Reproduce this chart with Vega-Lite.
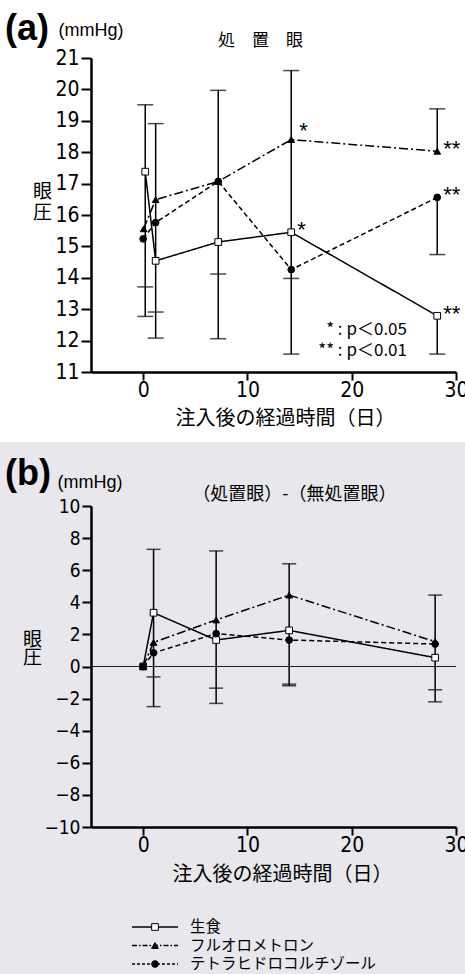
{
  "$schema": "https://vega.github.io/schema/vega-lite/v6.json",
  "background": "#e7e7ec",
  "padding": {"left": 0, "top": 0, "right": 0, "bottom": 12},
  "spacing": 134,
  "bounds": "flush",
  "resolve": {"scale": {"shape": "independent", "fill": "independent", "strokeDash": "independent"}},
  "config": {
    "font": "Liberation Sans",
    "view": {"stroke": null},
    "title": {"anchor": "start", "frame": "group", "font": "Liberation Sans", "fontSize": 36, "fontWeight": "bold", "color": "black", "offset": 0},
    "axis": {"grid": false, "domainColor": "black", "domainWidth": 2.5, "tickColor": "black", "tickWidth": 2, "labelColor": "black", "labelFont": "Liberation Sans Narrow, DejaVu Sans Condensed, sans-serif", "labelFontSize": 21, "labelFlush": false, "labelOverlap": false, "titleColor": "black", "titleFont": "Noto Sans CJK JP", "titleFontWeight": "normal"}
  },
  "datasets": {
    "pts": [
      {"panel": "a", "series": "生食", "day": 0.2, "v": 17.38},
      {"panel": "a", "series": "生食", "day": 1.2, "v": 14.54},
      {"panel": "a", "series": "生食", "day": 7.2, "v": 15.14},
      {"panel": "a", "series": "生食", "day": 14.2, "v": 15.45},
      {"panel": "a", "series": "生食", "day": 28.2, "v": 12.79},
      {"panel": "a", "series": "フルオロメトロン", "day": 0.05, "v": 15.56},
      {"panel": "a", "series": "フルオロメトロン", "day": 1.2, "v": 16.49},
      {"panel": "a", "series": "フルオロメトロン", "day": 7.2, "v": 17.07},
      {"panel": "a", "series": "フルオロメトロン", "day": 14.2, "v": 18.4},
      {"panel": "a", "series": "フルオロメトロン", "day": 28.2, "v": 18.03},
      {"panel": "a", "series": "テトラヒドロコルチゾール", "day": 0, "v": 15.24},
      {"panel": "a", "series": "テトラヒドロコルチゾール", "day": 1.2, "v": 15.76},
      {"panel": "a", "series": "テトラヒドロコルチゾール", "day": 7.2, "v": 17.07},
      {"panel": "a", "series": "テトラヒドロコルチゾール", "day": 14.2, "v": 14.26},
      {"panel": "a", "series": "テトラヒドロコルチゾール", "day": 28.2, "v": 16.56},
      {"panel": "b", "series": "生食", "day": 0, "v": 0},
      {"panel": "b", "series": "生食", "day": 1, "v": 3.35},
      {"panel": "b", "series": "生食", "day": 7, "v": 1.65},
      {"panel": "b", "series": "生食", "day": 14, "v": 2.25},
      {"panel": "b", "series": "生食", "day": 28, "v": 0.55},
      {"panel": "b", "series": "フルオロメトロン", "day": 0, "v": 0},
      {"panel": "b", "series": "フルオロメトロン", "day": 1, "v": 1.5},
      {"panel": "b", "series": "フルオロメトロン", "day": 7, "v": 2.9},
      {"panel": "b", "series": "フルオロメトロン", "day": 14, "v": 4.45},
      {"panel": "b", "series": "フルオロメトロン", "day": 28, "v": 1.55},
      {"panel": "b", "series": "テトラヒドロコルチゾール", "day": 0, "v": 0},
      {"panel": "b", "series": "テトラヒドロコルチゾール", "day": 1, "v": 0.85},
      {"panel": "b", "series": "テトラヒドロコルチゾール", "day": 7, "v": 2.05},
      {"panel": "b", "series": "テトラヒドロコルチゾール", "day": 14, "v": 1.65},
      {"panel": "b", "series": "テトラヒドロコルチゾール", "day": 28, "v": 1.4}
    ],
    "err": [
      {"panel": "a", "day": 0.2, "lo": 12.77, "hi": 19.51},
      {"panel": "a", "day": 1.2, "lo": 12.08, "hi": 18.91},
      {"panel": "a", "day": 7.2, "lo": 12.06, "hi": 19.97},
      {"panel": "a", "day": 14.2, "lo": 11.57, "hi": 20.6},
      {"panel": "a", "day": 28.2, "lo": 18.03, "hi": 19.38},
      {"panel": "a", "day": 28.2, "lo": 14.74, "hi": 16.56},
      {"panel": "a", "day": 28.2, "lo": 11.57, "hi": 12.79},
      {"panel": "b", "day": 1, "lo": -2.5, "hi": 7.3},
      {"panel": "b", "day": 7, "lo": -2.3, "hi": 7.2},
      {"panel": "b", "day": 14, "lo": -1.2, "hi": 6.4},
      {"panel": "b", "day": 28, "lo": -2.2, "hi": 4.45}
    ],
    "caps": [
      {"panel": "a", "day": 0.2, "cap": 19.51},
      {"panel": "a", "day": 0.2, "cap": 13.71},
      {"panel": "a", "day": 0.2, "cap": 12.77},
      {"panel": "a", "day": 1.2, "cap": 18.91},
      {"panel": "a", "day": 1.2, "cap": 12.91},
      {"panel": "a", "day": 1.2, "cap": 12.08},
      {"panel": "a", "day": 7.2, "cap": 19.97},
      {"panel": "a", "day": 7.2, "cap": 14.12},
      {"panel": "a", "day": 7.2, "cap": 12.06},
      {"panel": "a", "day": 14.2, "cap": 20.6},
      {"panel": "a", "day": 14.2, "cap": 13.98},
      {"panel": "a", "day": 14.2, "cap": 11.57},
      {"panel": "a", "day": 28.2, "cap": 19.38},
      {"panel": "a", "day": 28.2, "cap": 14.74},
      {"panel": "a", "day": 28.2, "cap": 11.57},
      {"panel": "b", "day": 1, "cap": 7.3},
      {"panel": "b", "day": 1, "cap": -0.65},
      {"panel": "b", "day": 1, "cap": -2.5},
      {"panel": "b", "day": 7, "cap": 7.2},
      {"panel": "b", "day": 7, "cap": -1.35},
      {"panel": "b", "day": 7, "cap": -2.3},
      {"panel": "b", "day": 14, "cap": 6.4},
      {"panel": "b", "day": 14, "cap": -1.1},
      {"panel": "b", "day": 14, "cap": -1.2},
      {"panel": "b", "day": 28, "cap": 4.45},
      {"panel": "b", "day": 28, "cap": -1.45},
      {"panel": "b", "day": 28, "cap": -2.2}
    ],
    "stars": [
      {"series": "フルオロメトロン", "day": 14.2, "v": 18.4, "label": "*"},
      {"series": "生食", "day": 14.2, "v": 15.45, "label": "*"},
      {"series": "フルオロメトロン", "day": 28.2, "v": 18.03, "label": "**"},
      {"series": "テトラヒドロコルチゾール", "day": 28.2, "v": 16.56, "label": "**"},
      {"series": "生食", "day": 28.2, "v": 12.79, "label": "**"}
    ],
    "legend": [
      {"series": "生食"},
      {"series": "フルオロメトロン"},
      {"series": "テトラヒドロコルチゾール"}
    ]
  },
  "vconcat": [
    {
      "width": 365,
      "height": 314,
      "title": {"text": "(a)", "dx": -86, "dy": 52},
      "resolve": {"axis": {"x": "independent", "y": "independent"}},
      "layer": [
        {
          "data": {"values": [{}]},
          "mark": {"type": "rect", "color": "white"},
          "encoding": {
            "x": {"datum": -13.726, "type": "quantitative", "scale": {"domain": [-5, 30], "nice": false, "zero": false}, "axis": null},
            "x2": {"datum": 40},
            "y": {"datum": 22.847, "type": "quantitative", "scale": {"domain": [11, 21], "nice": false, "zero": false}, "axis": null},
            "y2": {"datum": 8.771}
          }
        },
        {
          "data": {"name": "err"},
          "transform": [{"filter": "datum.panel === 'a'"}],
          "mark": {"type": "rule", "color": "black", "strokeWidth": 1.5},
          "encoding": {
            "x": {"field": "day", "type": "quantitative", "scale": {"domain": [-5, 30], "nice": false, "zero": false},
              "axis": {"zindex": 2, "orient": "top", "domain": false, "ticks": false, "labels": false, "title": "処　置　眼", "titleX": 169, "titleY": -18, "titleAlign": "center", "titleBaseline": "middle", "titleFontSize": 17}},
            "y": {"field": "lo", "type": "quantitative", "scale": {"domain": [11, 21], "nice": false, "zero": false},
              "axis": {"zindex": 2, "orient": "right", "domain": false, "ticks": false, "labels": false, "title": "(mmHg)", "titleAngle": 0, "titleX": -398, "titleY": -28, "titleAlign": "left", "titleBaseline": "middle", "titleFont": "Liberation Sans", "titleFontSize": 18}},
            "y2": {"field": "hi"}
          }
        },
        {
          "data": {"name": "caps"},
          "transform": [{"filter": "datum.panel === 'a'"}],
          "mark": {"type": "tick", "orient": "horizontal", "size": 16, "thickness": 1.5, "color": "black"},
          "encoding": {
            "x": {"field": "day", "type": "quantitative", "scale": {"domain": [-5, 30], "nice": false, "zero": false}, "axis": null},
            "y": {"field": "cap", "type": "quantitative", "scale": {"domain": [11, 21], "nice": false, "zero": false}, "axis": null}
          }
        },
        {
          "data": {"name": "pts"},
          "transform": [{"filter": "datum.panel === 'a'"}],
          "mark": {"type": "line", "color": "black", "strokeWidth": 1.5},
          "encoding": {
            "x": {"field": "day", "type": "quantitative", "scale": {"domain": [-5, 30], "nice": false, "zero": false},
              "axis": {"zindex": 2, "values": [0, 10, 20, 30], "tickSize": 8, "labelPadding": -1, "title": "注入後の経過時間（日）", "titleX": 194, "titleY": 46, "titleAlign": "center", "titleBaseline": "middle", "titleFontSize": 20}},
            "y": {"field": "v", "type": "quantitative", "scale": {"domain": [11, 21], "nice": false, "zero": false},
              "axis": {"zindex": 2, "values": [11, 12, 13, 14, 15, 16, 17, 18, 19, 20, 21], "tickSize": 10, "labelPadding": 2, "title": ["眼", "圧"], "titleAngle": 0, "titleX": -49, "titleY": 133, "titleAlign": "center", "titleBaseline": "middle", "titleFontSize": 19, "titleLineHeight": 21}},
            "strokeDash": {"field": "series", "type": "nominal", "scale": {"domain": ["生食", "フルオロメトロン", "テトラヒドロコルチゾール"], "range": [[1, 0], [9, 3, 2, 3], [5, 3]]}, "legend": null}
          }
        },
        {
          "data": {"name": "pts"},
          "transform": [{"filter": "datum.panel === 'a'"}],
          "mark": {"type": "point", "filled": true, "size": 45, "stroke": "black", "strokeWidth": 1, "opacity": 1},
          "encoding": {
            "x": {"field": "day", "type": "quantitative", "scale": {"domain": [-5, 30], "nice": false, "zero": false}, "axis": null},
            "y": {"field": "v", "type": "quantitative", "scale": {"domain": [11, 21], "nice": false, "zero": false}, "axis": null},
            "shape": {"field": "series", "type": "nominal", "scale": {"domain": ["生食", "フルオロメトロン", "テトラヒドロコルチゾール"], "range": ["square", "triangle-up", "circle"]}, "legend": null},
            "fill": {"field": "series", "type": "nominal", "scale": {"domain": ["生食", "フルオロメトロン", "テトラヒドロコルチゾール"], "range": ["white", "black", "black"]}, "legend": null}
          }
        },
        {
          "data": {"name": "stars"},
          "transform": [{"filter": "!(datum.day < 20 && datum.series === 'フルオロメトロン')"}],
          "mark": {"type": "text", "align": "left", "baseline": "alphabetic", "dx": 6, "dy": 5, "font": "Liberation Sans", "fontSize": 22, "color": "black"},
          "encoding": {
            "x": {"field": "day", "type": "quantitative", "scale": {"domain": [-5, 30], "nice": false, "zero": false}, "axis": null},
            "y": {"field": "v", "type": "quantitative", "scale": {"domain": [11, 21], "nice": false, "zero": false}, "axis": null},
            "text": {"field": "label"}
          }
        },
        {
          "data": {"name": "stars"},
          "transform": [{"filter": "datum.day < 20 && datum.series === 'フルオロメトロン'"}],
          "mark": {"type": "text", "align": "left", "baseline": "alphabetic", "dx": 8, "dy": -2, "font": "Liberation Sans", "fontSize": 22, "color": "black"},
          "encoding": {
            "x": {"field": "day", "type": "quantitative", "scale": {"domain": [-5, 30], "nice": false, "zero": false}, "axis": null},
            "y": {"field": "v", "type": "quantitative", "scale": {"domain": [11, 21], "nice": false, "zero": false}, "axis": null},
            "text": {"field": "label"}
          }
        },
        {
          "data": {"values": [{}]},
          "mark": {"type": "text", "align": "right", "baseline": "middle", "font": "Noto Sans CJK JP", "fontSize": 17, "lineHeight": 21, "color": "black"},
          "encoding": {
            "x": {"datum": 25.3, "type": "quantitative", "scale": {"domain": [-5, 30], "nice": false, "zero": false}, "axis": null},
            "y": {"datum": 12.34, "type": "quantitative", "scale": {"domain": [11, 21], "nice": false, "zero": false}, "axis": null},
            "text": {"value": ["* : p＜0.05", "** : p＜0.01"]}
          }
        }
      ]
    },
    {
      "width": 365,
      "height": 321,
      "title": {"text": "(b)", "dx": -86, "dy": 24},
      "resolve": {"axis": {"x": "independent", "y": "independent"}, "scale": {"y": "independent", "strokeDash": "independent"}},
      "layer": [
        {
          "data": {"values": [{}]},
          "mark": {"type": "rule", "color": "#222222", "strokeWidth": 1},
          "encoding": {
            "y": {"datum": 0, "type": "quantitative", "scale": {"domain": [-10, 10], "nice": false, "zero": false}, "axis": null}
          }
        },
        {
          "data": {"name": "err"},
          "transform": [{"filter": "datum.panel === 'b'"}],
          "mark": {"type": "rule", "color": "black", "strokeWidth": 1.5},
          "encoding": {
            "x": {"field": "day", "type": "quantitative", "scale": {"domain": [-5, 30], "nice": false, "zero": false},
              "axis": {"zindex": 2, "orient": "top", "domain": false, "ticks": false, "labels": false, "title": "（処置眼）-（無処置眼）", "titleX": 203, "titleY": -12, "titleAlign": "center", "titleBaseline": "middle", "titleFontSize": 18}},
            "y": {"field": "lo", "type": "quantitative", "scale": {"domain": [-10, 10], "nice": false, "zero": false},
              "axis": {"zindex": 2, "orient": "right", "domain": false, "ticks": false, "labels": false, "title": "(mmHg)", "titleAngle": 0, "titleX": -399, "titleY": -24, "titleAlign": "left", "titleBaseline": "middle", "titleFont": "Liberation Sans", "titleFontSize": 18}},
            "y2": {"field": "hi"}
          }
        },
        {
          "data": {"name": "caps"},
          "transform": [{"filter": "datum.panel === 'b'"}],
          "mark": {"type": "tick", "orient": "horizontal", "size": 14, "thickness": 1.5, "color": "black"},
          "encoding": {
            "x": {"field": "day", "type": "quantitative", "scale": {"domain": [-5, 30], "nice": false, "zero": false}, "axis": null},
            "y": {"field": "cap", "type": "quantitative", "scale": {"domain": [-10, 10], "nice": false, "zero": false}, "axis": null}
          }
        },
        {
          "data": {"name": "pts"},
          "transform": [{"filter": "datum.panel === 'b'"}],
          "mark": {"type": "line", "color": "black", "strokeWidth": 1.5},
          "encoding": {
            "x": {"field": "day", "type": "quantitative", "scale": {"domain": [-5, 30], "nice": false, "zero": false},
              "axis": {"zindex": 2, "values": [0, 10, 20, 30], "tickSize": 8, "labelPadding": -1, "title": "注入後の経過時間（日）", "titleX": 191, "titleY": 47, "titleAlign": "center", "titleBaseline": "middle", "titleFontSize": 20}},
            "y": {"field": "v", "type": "quantitative", "scale": {"domain": [-10, 10], "nice": false, "zero": false},
              "axis": {"zindex": 2, "values": [-10, -8, -6, -4, -2, 0, 2, 4, 6, 8, 10], "tickSize": 9, "labelPadding": 2, "labelFontSize": 19, "title": ["眼", "圧"], "titleAngle": 0, "titleX": -59, "titleY": 133, "titleAlign": "center", "titleBaseline": "middle", "titleFontSize": 19, "titleLineHeight": 18}},
            "strokeDash": {"field": "series", "type": "nominal", "scale": {"domain": ["生食", "フルオロメトロン", "テトラヒドロコルチゾール"], "range": [[1, 0], [9, 3, 2, 3], [5, 3]]}, "legend": null}
          }
        },
        {
          "data": {"name": "pts"},
          "transform": [{"filter": "datum.panel === 'b'"}],
          "mark": {"type": "point", "filled": true, "size": 45, "stroke": "black", "strokeWidth": 1, "opacity": 1},
          "encoding": {
            "x": {"field": "day", "type": "quantitative", "scale": {"domain": [-5, 30], "nice": false, "zero": false}, "axis": null},
            "y": {"field": "v", "type": "quantitative", "scale": {"domain": [-10, 10], "nice": false, "zero": false}, "axis": null},
            "shape": {"field": "series", "type": "nominal", "scale": {"domain": ["生食", "フルオロメトロン", "テトラヒドロコルチゾール"], "range": ["square", "triangle-up", "circle"]}, "legend": null},
            "fill": {"field": "series", "type": "nominal", "scale": {"domain": ["生食", "フルオロメトロン", "テトラヒドロコルチゾール"], "range": ["white", "black", "black"]}, "legend": null}
          }
        },
        {
          "data": {"name": "legend"},
          "mark": {"type": "rule", "color": "black", "strokeWidth": 1.3},
          "encoding": {
            "x": {"datum": -1.07, "type": "quantitative", "scale": {"domain": [-5, 30], "nice": false, "zero": false}, "axis": null},
            "x2": {"datum": 3.34},
            "y": {"field": "series", "type": "nominal", "scale": {"type": "point", "domain": ["生食", "フルオロメトロン", "テトラヒドロコルチゾール"], "range": [421, 458], "padding": 0}, "axis": null},
            "strokeDash": {"field": "series", "type": "nominal", "scale": {"domain": ["生食", "フルオロメトロン", "テトラヒドロコルチゾール"], "range": [[1, 0], [5, 2, 1.5, 2], [3, 2]]}, "legend": null}
          }
        },
        {
          "data": {"name": "legend"},
          "mark": {"type": "point", "filled": true, "size": 45, "stroke": "black", "strokeWidth": 1, "opacity": 1},
          "encoding": {
            "x": {"datum": 1.137, "type": "quantitative", "scale": {"domain": [-5, 30], "nice": false, "zero": false}, "axis": null},
            "y": {"field": "series", "type": "nominal", "scale": {"type": "point", "domain": ["生食", "フルオロメトロン", "テトラヒドロコルチゾール"], "range": [421, 458], "padding": 0}, "axis": null},
            "shape": {"field": "series", "type": "nominal", "scale": {"domain": ["生食", "フルオロメトロン", "テトラヒドロコルチゾール"], "range": ["square", "triangle-up", "circle"]}, "legend": null},
            "fill": {"field": "series", "type": "nominal", "scale": {"domain": ["生食", "フルオロメトロン", "テトラヒドロコルチゾール"], "range": ["white", "black", "black"]}, "legend": null}
          }
        },
        {
          "data": {"name": "legend"},
          "mark": {"type": "text", "align": "left", "baseline": "middle", "font": "Noto Sans CJK JP", "fontSize": 15.5, "color": "black"},
          "encoding": {
            "x": {"datum": 4.49, "type": "quantitative", "scale": {"domain": [-5, 30], "nice": false, "zero": false}, "axis": null},
            "y": {"field": "series", "type": "nominal", "scale": {"type": "point", "domain": ["生食", "フルオロメトロン", "テトラヒドロコルチゾール"], "range": [421, 458], "padding": 0}, "axis": null},
            "text": {"field": "series"}
          }
        }
      ]
    }
  ]
}
